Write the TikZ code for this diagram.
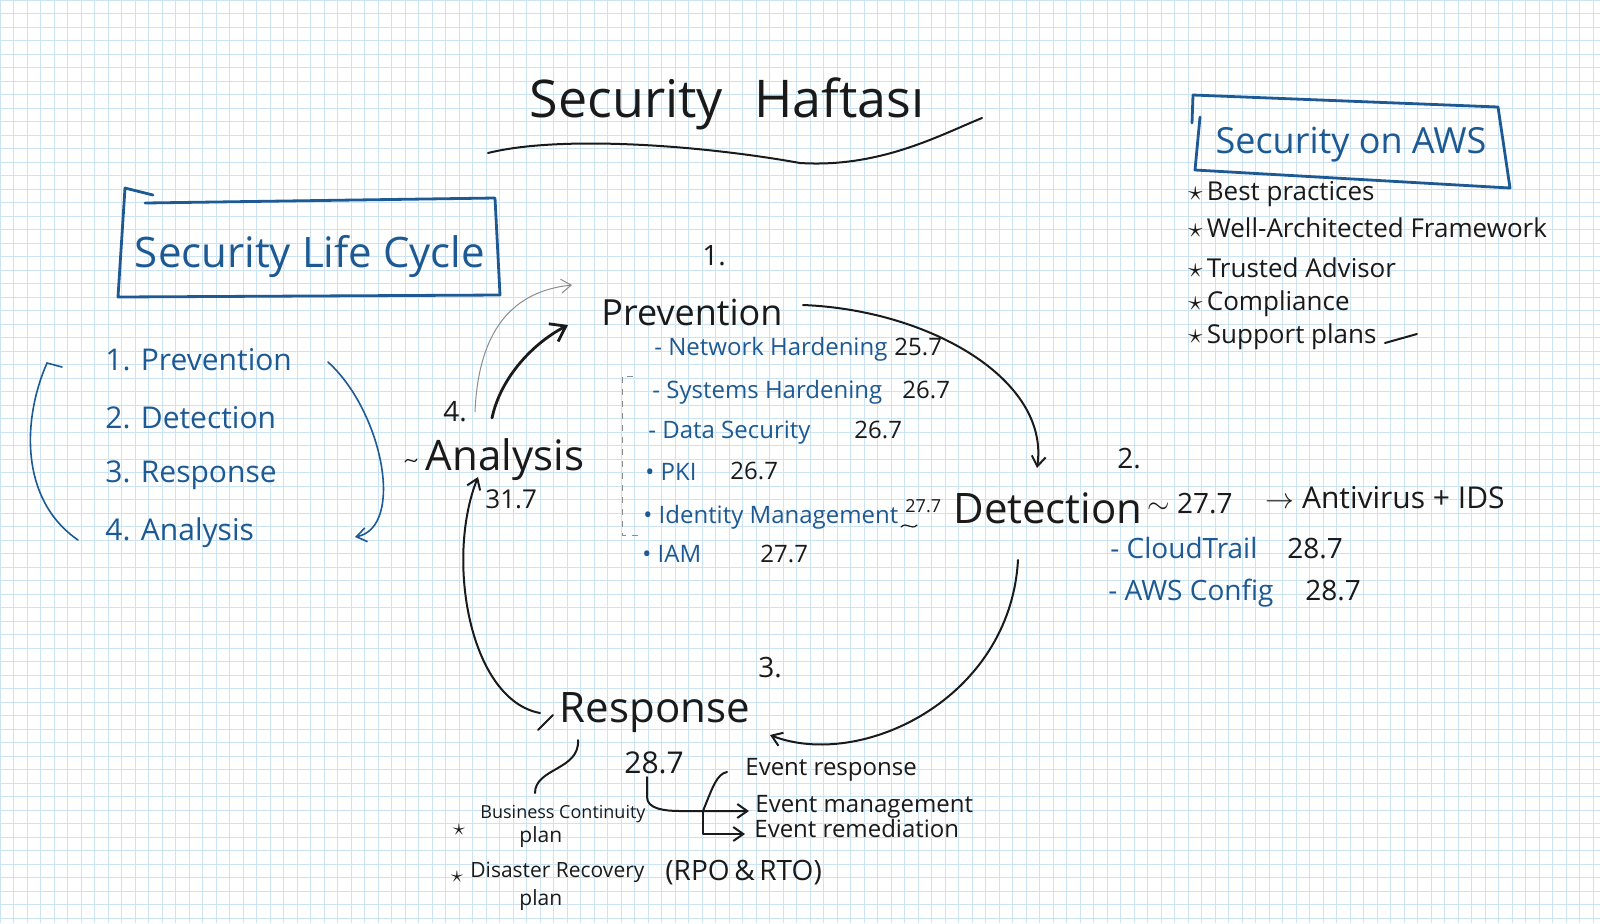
\documentclass[tikz,border=0pt]{standalone}
\usepackage{fontspec}
\setmainfont{Open Sans}
\usetikzlibrary{arrows.meta, calc, positioning}

\definecolor{inkblue}{HTML}{1D5A94}
\definecolor{inkblack}{HTML}{1A1A1A}
\definecolor{gridblue}{HTML}{CBE3F2}
\definecolor{pencilgray}{HTML}{8C8C8C}

\tikzset{
  pen/.style={inkblack, line width=1pt, line cap=round, line join=round},
  bluepen/.style={inkblue, line width=1.4pt, line cap=round, line join=round},
  thinblue/.style={inkblue, line width=0.8pt, line cap=round},
  stage/.style={inkblack, inner sep=1pt, anchor=base, font=\fontsize{21}{25}\selectfont},
  stepnum/.style={inkblack, inner sep=1pt, font=\fontsize{14}{16}\selectfont},
  heading/.style={inkblue, inner sep=1pt, anchor=base},
  blueitem/.style={inkblue, inner sep=1pt, anchor=base west, font=\fontsize{12}{14}\selectfont},
  note/.style={inkblack, inner sep=1pt, anchor=base west, font=\fontsize{12}{14}\selectfont},
}

\begin{document}
\begin{tikzpicture}[x=0.5pt, y=-0.5pt, >={Straight Barb[length=5pt, width=7pt]}]
\useasboundingbox (0,0) rectangle (1600,923);
\fill[white] (0,0) rectangle (1600,923);
\draw[gridblue, line width=0.5pt, step=6.75pt] (0,923) grid (1600,0);

% page title
\node[stage, font=\fontsize{26}{30}\selectfont] (title) at (727,117) {Security\hspace{0.6em}Haftası};
\draw[pen] (488,153) .. controls (560,135) and (700,145) .. (800,163) .. controls (880,168) and (940,135) .. (982,118);

% Security on AWS
\node[heading, font=\fontsize{18}{22}\selectfont] (awstitle) at (1351,153) {Security on AWS};
\draw[bluepen] (1193,95) -- (1192,123);
\draw[bluepen] (1193,95) -- (1498,107) -- (1510,188) -- (1195,170) -- (1200,117);
\foreach \y/\txt [count=\i] in {200/Best practices, 237/Well-Architected Framework, 277/Trusted Advisor, 310/Compliance, 343/Support plans}
  \node[note, font=\fontsize{13}{15}\selectfont] (aws\i) at (1186,\y) {{\Large$\star$}\,\txt};
\draw[pen] ($(aws5.base east)+(6,0)$) -- ++(32,-9);

% Security Life Cycle
\node[heading, font=\fontsize{21}{25}\selectfont] (lctitle) at (310,267) {Security Life Cycle};
\draw[bluepen] (125,188) -- (153,195);
\draw[bluepen] (145,203) -- (495,198) -- (500,295) -- (118,297) -- (125,188);
\foreach \y/\txt [count=\i] in {370/1. Prevention, 428/2. Detection, 482/3. Response, 540/4. Analysis}
  \node[blueitem, font=\fontsize{15}{18}\selectfont] (lc\i) at (103,\y) {\txt};
\draw[thinblue] ($(lc1.base west)+(-41,-3)$) -- ++(-15,-4) .. controls +(-25,57) and +(-58,-40) .. ($(lc4.base west)+(-25,0)$);
\draw[thinblue, ->] ($(lc1.base west)+(225,-8)$) .. controls +(55,50) and +(50,-10) .. ($(lc4.base west)+(252,-3)$);

% the four stages
\node[stage, font=\fontsize{18}{22}\selectfont] (prev) at (692,325) {Prevention};
\node[stepnum] (n1) at (714,256) {1.};
\node[stage] (det) at (1048,523) {Detection};
\node[stepnum] (n2) at (1129,459) {2.};
\node[stage] (resp) at (655,722) {Response};
\node[stepnum] (n3) at (770,668) {3.};
\node[stage] (anal) at (505,470) {Analysis};
\node[stepnum] (n4) at (455,412) {4.};
\node[note, font=\fontsize{13}{15}\selectfont] (analnum) at (483,508) {31.7};
\draw[pen, line width=0.6pt] ($(anal.base)+(-100,-8)$) .. controls +(4,-7) and +(-4,7) .. +(12,-3);

% cycle
\draw[pen, line width=1.4pt, -{Straight Barb[length=7pt, width=10pt]}] ($(anal.base)+(-13,-52)$) .. controls +(8,-38) and +(-38,20) .. ($(prev.base)+(-124,0)$);
\draw[pencilgray, line width=0.5pt, ->] ($(anal.base)+(-30,-58)$) .. controls +(3,-72) and +(-67,7) .. ($(prev.base)+(-120,-40)$);
\draw[pen, ->] ($(prev.base)+(111,-20)$) .. controls +(127,5) and +(13,-88) .. ($(det.base)+(-11,-55)$);
\draw[pen, ->] ($(det.base)+(-30,37)$) .. controls +(-8,140) and +(90,35) .. ($(resp.base)+(115,13)$);
\draw[pen, ->] ($(resp.base)+(-115,-9)$) .. controls +(-70,-13) and +(-33,83) .. ($(anal.base)+(-27,7)$);
\draw[pen] ($(resp.base)+(-117,8)$) -- ++(15,-15);

% prevention items
\foreach \x/\y/\txt/\nx/\ny/\fs/\num [count=\i] in {652/355/- Network Hardening/892/355/12/25.7, 650/398/- Systems Hardening/900/398/12/26.7, 646/438/- Data Security/852/438/12/26.7, 643/480/• PKI/728/479/12/26.7, 641/523/• Identity Management/903/512/9/27.7, 640/562/• IAM/758/562/12/27.7}
{
  \node[blueitem] (p\i) at (\x,\y) {\txt};
  \node[note, font=\fontsize{\fs}{14}\selectfont] (pn\i) at (\nx,\ny) {\num};
}
\draw[pencilgray, line width=0.5pt, dashed] ($(p2.base west)+(-17,-22)$) -| ($(p5.base west)+(-19,12)$) -- ++(21,0);
\draw[pen, line width=0.6pt] ($(pn5.base west)+(-2,15)$) .. controls +(6,-6) and +(-6,6) .. +(16,-2);

% detection items
\node[note, font=\fontsize{14}{16}\selectfont] (detnum) at (1145,513) {$\sim$ 27.7};
\node[note, font=\fontsize{15}{18}\selectfont] (avids) at (1263,508) {$\rightarrow$ Antivirus + IDS};
\foreach \x/\y/\txt/\nx [count=\i] in {1108/558/- CloudTrail/1285, 1106/600/- AWS Config/1303}
{
  \node[blueitem, font=\fontsize{14}{17}\selectfont] (d\i) at (\x,\y) {\txt};
  \node[note, font=\fontsize{14}{17}\selectfont] (dn\i) at (\nx,\y) {28.7};
}

% response items
\node[note, font=\fontsize{15}{18}\selectfont] (respnum) at (622,773) {28.7};
\foreach \x/\y/\txt [count=\i] in {743/775/Event response, 753/812/Event management, 752/837/Event remediation}
  \node[note] (ev\i) at (\x,\y) {\txt};
\coordinate (split) at (703,811);
\draw[pen, ->] ($(respnum.base west)+(25,4)$) -- ++(0,20) .. controls +(0,12) and +(-15,0) .. ++(33,14) -- ($(ev2.base west)+(-4,-1)$);
\draw[pen] (split) .. controls +(10,-25) and +(-10,2) .. ($(ev1.base west)+(-16,-3)$);
\draw[pen, ->] (split) |- ($(ev3.base west)+(-7,-3)$);

\node[note, font=\fontsize{9}{11}\selectfont] (bcp) at (478,818) {Business Continuity};
\node[note, font=\fontsize{10.5}{13}\selectfont] (bcpplan) at (517,842) {plan};
\node[stepnum, font=\fontsize{12}{12}\selectfont] (bstar1) at (459,830) {$\star$};
\node[note, font=\fontsize{10.5}{13}\selectfont] (drp) at (468,877) {Disaster Recovery};
\node[note, font=\fontsize{10.5}{13}\selectfont] (drpplan) at (517,905) {plan};
\node[stepnum, font=\fontsize{12}{12}\selectfont] (bstar2) at (457,877) {$\star$};
\node[note, font=\fontsize{14}{17}\selectfont] (rpo) at (663,880) {(RPO\,\&\,RTO)};
\draw[pen] ($(resp.base)+(-77,18)$) .. controls +(2,30) and +(0,-25) .. ($(bcp.base west)+(57,-25)$);
\end{tikzpicture}
\end{document}
